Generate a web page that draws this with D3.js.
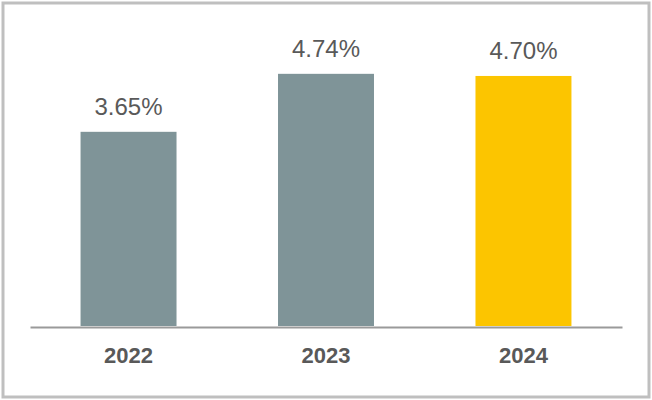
<!DOCTYPE html>
<html><head><meta charset="utf-8">
<script src="https://cdn.jsdelivr.net/npm/d3@7"></script>
<style>html,body{margin:0;padding:0;background:#fff;}svg{display:block;}</style>
</head><body>
<svg id="chart" width="652" height="400"></svg>
<script>
const categories = ["2022", "2023", "2024"];
const values = [3.65, 4.74, 4.70];
const valueLabels = ["3.65%", "4.74%", "4.70%"];
const barColors = ["#7f9498", "#7f9498", "#fcc500"];

const svg = d3.select("#chart");
svg.append("rect").attr("x", 3).attr("y", 3).attr("width", 646).attr("height", 394)
  .attr("fill", "#fff").attr("stroke", "#bfbfbf").attr("stroke-width", 3);

const x = d3.scaleBand().domain(categories).range([30, 622]).paddingInner(0.514).paddingOuter(0.256);
const y = d3.scaleLinear().domain([0, 5]).range([326, 60]);

svg.selectAll("rect.bar").data(values).enter().append("rect").attr("class", "bar")
  .attr("x", (d, i) => x(categories[i]))
  .attr("width", x.bandwidth())
  .attr("y", d => y(d))
  .attr("height", d => y(0) - y(d))
  .attr("fill", (d, i) => barColors[i]);

svg.selectAll("text.val").data(values).enter().append("text").attr("class", "val")
  .attr("x", (d, i) => x(categories[i]) + x.bandwidth() / 2)
  .attr("y", d => y(d) - 17)
  .attr("text-anchor", "middle")
  .attr("font-family", "Liberation Sans, Arial, sans-serif")
  .attr("font-size", 24)
  .attr("fill", "#595959")
  .text((d, i) => valueLabels[i]);

const axis = svg.append("g").attr("transform", "translate(0,327)")
  .call(d3.axisBottom(x).tickSize(0).tickPadding(20));
axis.select(".domain").attr("stroke", "#9a9a9a").attr("stroke-width", 2);
axis.selectAll("text")
  .attr("font-family", "Liberation Sans, Arial, sans-serif")
  .attr("font-size", 22).attr("font-weight", "bold").attr("fill", "#595959");
</script>
</body></html>
